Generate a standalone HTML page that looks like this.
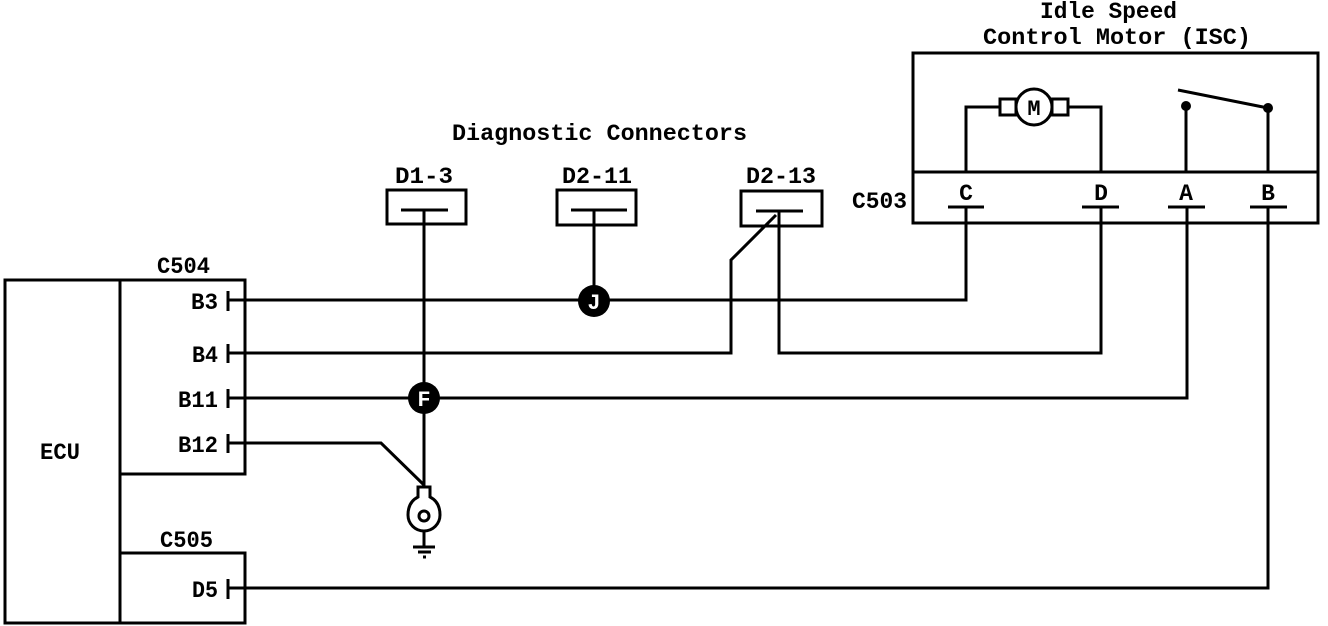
<!DOCTYPE html>
<html><head><meta charset="utf-8"><style>
html,body{margin:0;padding:0;background:#fff;}
svg{display:block;}
text{font-family:"Liberation Mono",monospace;font-weight:bold;fill:#000;}
</style></head><body>
<svg width="1328" height="626" viewBox="0 0 1328 626" xmlns="http://www.w3.org/2000/svg">
<g fill="none" stroke="#000" stroke-width="3">
<rect x="5" y="280" width="115" height="343"/>
<rect x="120" y="280" width="125" height="194"/>
<rect x="120" y="553" width="125" height="70"/>
<line x1="228" y1="291" x2="228" y2="311"/>
<line x1="228" y1="344" x2="228" y2="363"/>
<line x1="228" y1="389" x2="228" y2="408"/>
<line x1="228" y1="434" x2="228" y2="453"/>
<line x1="228" y1="579" x2="228" y2="599"/>
<rect x="387" y="190" width="79" height="34"/>
<rect x="557" y="190" width="79" height="35"/>
<rect x="741" y="191" width="81" height="35"/>
<line x1="401" y1="210" x2="448" y2="210"/>
<line x1="571" y1="210" x2="627" y2="210"/>
<line x1="756" y1="211" x2="803" y2="211"/>
<rect x="913" y="53" width="405" height="170"/>
<line x1="913" y1="172" x2="1318" y2="172"/>
<line x1="948" y1="207" x2="984" y2="207"/>
<line x1="1082" y1="207" x2="1119" y2="207"/>
<line x1="1168" y1="207" x2="1205" y2="207"/>
<line x1="1250" y1="207" x2="1287" y2="207"/>
<polyline points="966,172 966,107 1000,107"/>
<rect x="1000" y="99" width="16" height="16"/>
<circle cx="1034" cy="107" r="18"/>
<rect x="1052" y="99" width="16" height="16"/>
<polyline points="1068,107 1101,107 1101,172"/>
<line x1="1186" y1="172" x2="1186" y2="107"/>
<line x1="1268" y1="172" x2="1268" y2="108"/>
<line x1="1178" y1="90" x2="1268" y2="108"/>
<polyline points="228,300 966,300 966,207"/>
<line x1="594" y1="210" x2="594" y2="300"/>
<polyline points="228,353 731,353 731,260 776,215"/>
<polyline points="779,211 779,353 1101,353 1101,207"/>
<polyline points="228,398 1187,398 1187,207"/>
<line x1="424" y1="210" x2="424" y2="487"/>
<polyline points="228,443 381,443 424,485"/>
<polyline points="228,588 1268,588 1268,207"/>
<path d="M418,487 L430,487 L430,497 Q440,502 440,515 A16,16 0 1 1 408,515 Q408,502 418,497 Z"/>
<circle cx="424" cy="516" r="5"/>
<line x1="424" y1="531" x2="424" y2="547"/>
<line x1="413" y1="547" x2="435" y2="547"/>
<line x1="418" y1="552" x2="431" y2="552"/>
<line x1="423" y1="557" x2="426" y2="557"/>
</g>
<circle cx="1186" cy="106" r="5"/>
<circle cx="1268" cy="108" r="5"/>
<circle cx="594" cy="301" r="16"/>
<circle cx="424" cy="398" r="16"/>
<text x="594" y="309" font-size="22" text-anchor="middle" style="fill:#fff">J</text>
<text x="424" y="406" font-size="22" text-anchor="middle" style="fill:#fff">F</text>
<g font-size="23">
<text x="1040" y="18" textLength="137" lengthAdjust="spacingAndGlyphs">Idle Speed</text>
<text x="983" y="44" textLength="268" lengthAdjust="spacingAndGlyphs">Control Motor (ISC)</text>
<text x="452" y="140" textLength="295" lengthAdjust="spacingAndGlyphs">Diagnostic Connectors</text>
<text x="395" y="183" textLength="58" lengthAdjust="spacingAndGlyphs">D1-3</text>
<text x="562" y="183" textLength="70" lengthAdjust="spacingAndGlyphs">D2-11</text>
<text x="746" y="183" textLength="70" lengthAdjust="spacingAndGlyphs">D2-13</text>
<text x="852" y="208" textLength="55" lengthAdjust="spacingAndGlyphs">C503</text>
<text x="157" y="273" textLength="53" lengthAdjust="spacingAndGlyphs">C504</text>
<text x="160" y="547" textLength="53" lengthAdjust="spacingAndGlyphs">C505</text>
<text x="40" y="459" textLength="40" lengthAdjust="spacingAndGlyphs">ECU</text>
<text x="191" y="309" textLength="27" lengthAdjust="spacingAndGlyphs">B3</text>
<text x="192" y="362" textLength="26" lengthAdjust="spacingAndGlyphs">B4</text>
<text x="178" y="407" textLength="40" lengthAdjust="spacingAndGlyphs">B11</text>
<text x="178" y="452" textLength="40" lengthAdjust="spacingAndGlyphs">B12</text>
<text x="192" y="597" textLength="26" lengthAdjust="spacingAndGlyphs">D5</text>
<text x="966" y="200" text-anchor="middle">C</text>
<text x="1101" y="200" text-anchor="middle">D</text>
<text x="1186" y="200" text-anchor="middle">A</text>
<text x="1268" y="200" text-anchor="middle">B</text>
<text x="1034" y="115" text-anchor="middle" font-size="22">M</text>
</g>
</svg>
</body></html>
